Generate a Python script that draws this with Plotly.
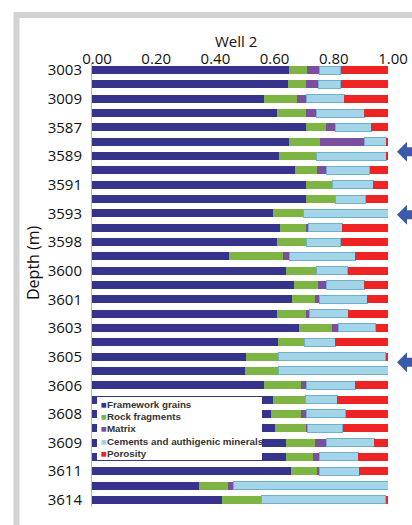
import plotly.graph_objects as go

# ---- data (fractions of whole rock, Well 2) ----
depth_labels = ["3003", "3009", "3587", "3589", "3591", "3593", "3598", "3600",
                "3601", "3603", "3605", "3606", "3608", "3609", "3611", "3614"]
sample_index = list(range(31))  # 31 samples, every other one labelled

framework_grains = [0.664, 0.661, 0.582, 0.624, 0.722, 0.664, 0.631, 0.687, 0.722, 0.722,
                    0.610, 0.635, 0.624, 0.464, 0.655, 0.682, 0.677, 0.624, 0.700, 0.630,
                    0.520, 0.517, 0.582, 0.613, 0.604, 0.618, 0.655, 0.655, 0.671, 0.363, 0.438]
rock_fragments = [0.061, 0.062, 0.109, 0.099, 0.069, 0.106, 0.126, 0.072, 0.090, 0.102,
                  0.104, 0.090, 0.099, 0.182, 0.102, 0.083, 0.076, 0.099, 0.110, 0.087,
                  0.110, 0.113, 0.124, 0.107, 0.102, 0.107, 0.098, 0.093, 0.088, 0.095, 0.133]
matrix = [0.043, 0.042, 0.034, 0.034, 0.033, 0.152, 0.002, 0.034, 0.001, 0.000,
          0.002, 0.006, 0.000, 0.021, 0.002, 0.028, 0.017, 0.013, 0.022, 0.002,
          0.001, 0.001, 0.017, 0.002, 0.017, 0.002, 0.038, 0.022, 0.009, 0.019, 0.002]
cements = [0.073, 0.076, 0.127, 0.163, 0.119, 0.073, 0.236, 0.146, 0.137, 0.101,
           0.284, 0.115, 0.118, 0.222, 0.105, 0.127, 0.160, 0.130, 0.126, 0.102,
           0.361, 0.369, 0.166, 0.107, 0.134, 0.120, 0.162, 0.130, 0.135, 0.523, 0.420]
porosity = [0.159, 0.159, 0.148, 0.080, 0.057, 0.005, 0.005, 0.061, 0.050, 0.075,
            0.000, 0.154, 0.159, 0.111, 0.136, 0.080, 0.070, 0.134, 0.042, 0.179,
            0.008, 0.000, 0.111, 0.171, 0.143, 0.153, 0.047, 0.100, 0.097, 0.000, 0.007]
x_ticks = [0.0, 0.2, 0.4, 0.6, 0.8, 1.0]
marked_samples = [5.7, 10.1, 20.4]  # arrows on the right

series = [
    ("Framework grains", framework_grains, "#35348a", None),
    ("Rock fragments", rock_fragments, "#7db443", None),
    ("Matrix", matrix, "#7b4f9d", None),
    ("Cements and authigenic minerals", cements, "#a3d4e8", "#6fb0cf"),
    ("Porosity", porosity, "#ee2324", None),
]

fig = go.Figure()
for name, vals, col, lcol in series:
    fig.add_trace(go.Bar(
        y=sample_index, x=vals, name=name, orientation="h",
        marker=dict(color=col, line=dict(width=1 if lcol else 0, color=lcol or col)),
        showlegend=False,
    ))

# geometry helpers (pixel -> paper), plot area 92..388 x 63..507
L, R, T, B = 92, 388, 63, 507
W, H = R - L, B - T
def px(x):
    return (x - L) / W
def py(y):
    return (B - y) / H

shapes = []
# grey frame
shapes.append(dict(type="rect", xref="paper", yref="paper",
                   x0=px(16.5), x1=px(430), y0=py(15), y1=py(540),
                   line=dict(color="#d3d3d3", width=6), fillcolor="rgba(0,0,0,0)", layer="below"))
# arrows
for s in marked_samples:
    c = T + (s + 0.5) * H / 31
    pts = [(397, c), (407, c - 10), (407, c - 4.5), (416, c - 4.5),
           (416, c + 4.5), (407, c + 4.5), (407, c + 10)]
    path = "M " + " L ".join(f"{px(a):.4f},{py(b):.4f}" for a, b in pts) + " Z"
    shapes.append(dict(type="path", xref="paper", yref="paper", path=path,
                       fillcolor="#3c5aaa", line=dict(width=0)))
# legend box
shapes.append(dict(type="rect", xref="paper", yref="paper",
                   x0=px(97), x1=px(262), y0=py(460), y1=py(397),
                   fillcolor="white", line=dict(width=0), layer="above"))

annotations = [
    dict(text="Well 2", x=px(236), y=py(41), xref="paper", yref="paper",
         showarrow=False, font=dict(size=15, color="#111"), xanchor="center", yanchor="middle"),
    dict(text="Depth (m)", x=px(33), y=py(263), xref="paper", yref="paper",
         showarrow=False, textangle=-90, font=dict(size=16, color="#111"),
         xanchor="center", yanchor="middle"),
]
for i, (name, vals, col, lcol) in enumerate(series):
    yy = 404 + i * 12.4
    annotations.append(dict(
        text=f'<span style="color:{col}">■</span>{name}',
        x=px(99), y=py(yy), xref="paper", yref="paper", showarrow=False,
        xanchor="left", yanchor="middle",
        font=dict(size=9.8, color="#333", family="Liberation Sans", weight="bold")))

fig.update_layout(
    barmode="stack", bargap=0.44,
    width=412, height=525,
    margin=dict(l=L, r=412 - R, t=T, b=525 - B),
    paper_bgcolor="white", plot_bgcolor="white",
    font=dict(family="Open Sans", size=15, color="#111"),
    xaxis=dict(side="top", range=[0, 1], tickvals=x_ticks, tickformat=".2f",
               showgrid=False, zeroline=False, showline=False, ticks="",
               ticklabelshift=5, ticklabelstandoff=-5, tickfont=dict(size=15),
               automargin=False),
    yaxis=dict(range=[30.5, -0.5], tickvals=sample_index[::2], ticktext=depth_labels,
               showgrid=False, zeroline=False, showline=True, linecolor="#b5b5b5",
               linewidth=1, ticks="", ticklabelstandoff=6, tickfont=dict(size=15),
               automargin=False),
    shapes=shapes, annotations=annotations,
)

fig.write_html("out.html", config={"displayModeBar": False},
               post_script="document.body.style.margin='0';document.body.style.overflow='hidden';")
